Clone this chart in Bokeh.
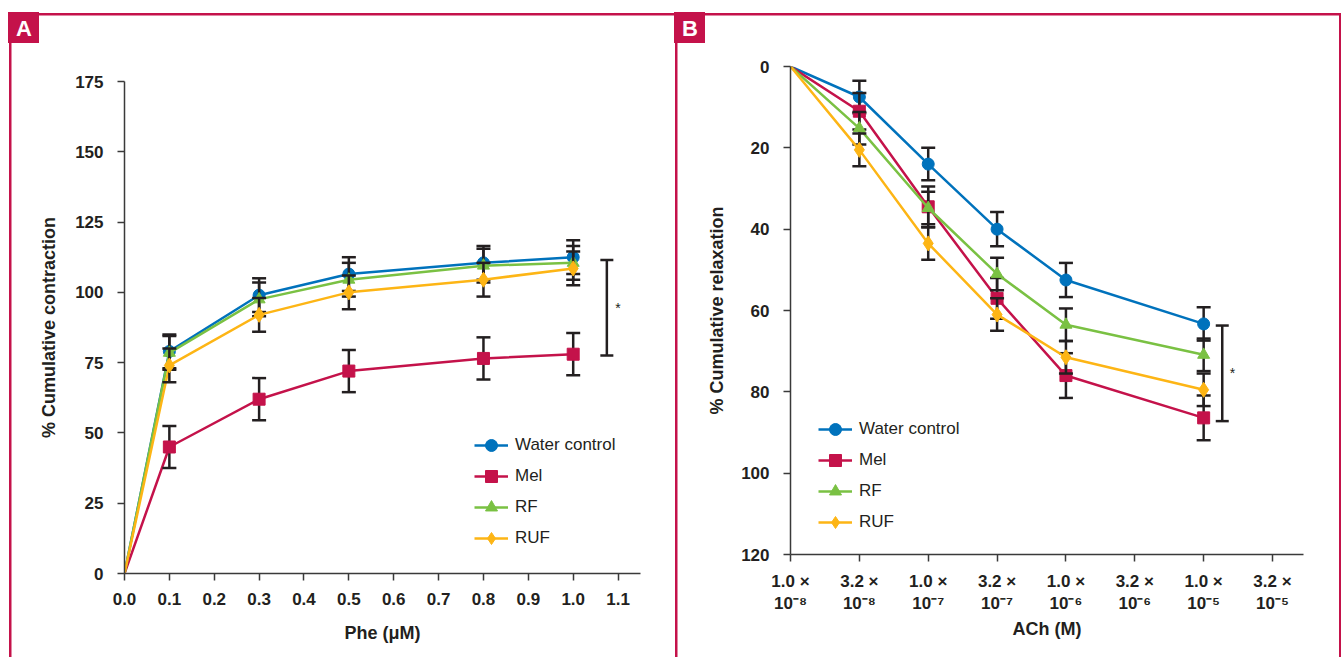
from bokeh.plotting import figure
from bokeh.models import (Range1d, FixedTicker, Legend, LegendItem, Label, Title)
from bokeh.layouts import row
from bokeh.embed import file_html
from bokeh.resources import INLINE

# ---------------- data ----------------
# Panel A: Phe concentration (uM) vs % cumulative contraction
phe_x = [0.0, 0.1, 0.3, 0.5, 0.8, 1.0]
a_water = [0, 79, 99, 106.5, 110.5, 112.5]
a_water_err = [6, 6, 6, 6, 6]
a_mel = [0, 45, 62, 72, 76.5, 78]
a_mel_err = [7.5, 7.5, 7.5, 7.5, 7.5]
a_rf = [0, 78.5, 97.5, 104.5, 109.5, 110.5]
a_rf_err = [6, 6, 6, 6, 6]
a_ruf = [0, 74, 92, 100, 104.5, 108.5]
a_ruf_err = [6, 6, 6, 6, 6]
a_xticks = [0.0, 0.1, 0.2, 0.3, 0.4, 0.5, 0.6, 0.7, 0.8, 0.9, 1.0, 1.1]
a_xlabels = ["0.0", "0.1", "0.2", "0.3", "0.4", "0.5", "0.6", "0.7", "0.8", "0.9", "1.0", "1.1"]
a_yticks = [0, 25, 50, 75, 100, 125, 150, 175]
a_sig = [77.5, 111.5]   # significance bracket range

# Panel B: ACh concentration (category index) vs % cumulative relaxation
ach_x = [0, 1, 2, 3, 4, 6]
b_water = [0, 7.5, 24, 40, 52.5, 63.3]
b_water_err = [4, 4, 4.2, 4.2, 4.1]
b_mel = [0, 11, 34.5, 57, 76, 86.4]
b_mel_err = [4.5, 5, 5, 5.5, 5.5]
b_rf = [0, 15.2, 34.8, 51, 63.5, 70.9]
b_rf_err = [4, 4, 4, 4, 4]
b_ruf = [0, 20.5, 43.5, 61, 71.5, 79.5]
b_ruf_err = [4, 4, 4, 4, 4]
b_xticks = [0, 1, 2, 3, 4, 5, 6, 7]
b_xlabels = ["1.0 \u00d7\n10\u207b\u2078", "3.2 \u00d7\n10\u207b\u2078",
             "1.0 \u00d7\n10\u207b\u2077", "3.2 \u00d7\n10\u207b\u2077",
             "1.0 \u00d7\n10\u207b\u2076", "3.2 \u00d7\n10\u207b\u2076",
             "1.0 \u00d7\n10\u207b\u2075", "3.2 \u00d7\n10\u207b\u2075"]
b_yticks = [0, 20, 40, 60, 80, 100, 120]
b_sig = [63.7, 87.2]

series_names = ["Water control", "Mel", "RF", "RUF"]

# ---------------- style ----------------
CRIMSON = "#C4124A"
BLUE = "#0072BC"
GREEN = "#7AC143"
YELLOW = "#FDB515"
DARK = "#231F20"
AXIS = "#3a3a3a"
FONT = "Liberation Sans"


def grad(x, y, w, h):
    return f"linear-gradient({CRIMSON},{CRIMSON}) {x} {y} / {w} {h} no-repeat"


def style_axes(p):
    p.xgrid.visible = False
    p.ygrid.visible = False
    p.outline_line_color = None
    for ax in p.axis:
        ax.axis_line_color = AXIS
        ax.axis_line_width = 1.5
        ax.major_tick_line_color = AXIS
        ax.major_tick_line_width = 1.5
        ax.major_tick_in = 0
        ax.major_tick_out = 7
        ax.minor_tick_line_color = None
        ax.major_label_text_font = FONT
        ax.major_label_text_font_style = "bold"
        ax.major_label_text_font_size = "17px"
        ax.major_label_text_color = DARK
        ax.axis_label_text_font = FONT
        ax.axis_label_text_font_style = "bold"
        ax.axis_label_text_font_size = "18px"
        ax.axis_label_text_color = DARK


def draw_series(p, x, y, err, color, marker, size, cap):
    ln = p.line(x, y, line_color=color, line_width=2.5)
    xs = x[1:]
    ys = y[1:]
    up = [v + e for v, e in zip(ys, err)]
    lo = [v - e for v, e in zip(ys, err)]
    p.segment(x0=xs, y0=lo, x1=xs, y1=up, line_color=DARK, line_width=2.5)
    p.scatter(xs, up, marker="dash", size=cap, line_color=DARK, line_width=2.5)
    p.scatter(xs, lo, marker="dash", size=cap, line_color=DARK, line_width=2.5)
    sc = p.scatter(xs, ys, marker=marker, size=size, fill_color=color, line_color=color)
    return ln, sc


def panel_letter(p, text, spacer_standoff, offset):
    # invisible spacer panel next to the frame, then the letter panel above it
    p.add_layout(Title(text=" ", text_font_size="1px", standoff=spacer_standoff,
                       text_color="white"), "above")
    p.add_layout(Title(text=text, align="left", offset=offset, standoff=12,
                       vertical_align="middle", text_color="#FFFFFF",
                       text_font=FONT, text_font_style="bold",
                       text_font_size="22px"), "above")


def make_legend(p, pairs, loc):
    items = [LegendItem(label=n, renderers=list(r)) for n, r in zip(series_names, pairs)]
    lg = Legend(items=items, location=loc, orientation="vertical",
                glyph_width=34, glyph_height=30, label_height=20, spacing=1,
                padding=0, margin=0, label_standoff=7, border_line_color=None,
                background_fill_alpha=0, label_text_font=FONT,
                label_text_font_size="17px", label_text_color=DARK)
    p.add_layout(lg)


# ---------------- Panel A ----------------
pa = figure(width=674, height=657, output_backend="svg", toolbar_location=None,
            x_range=Range1d(0, 1.15), y_range=Range1d(0, 175),
            min_border_left=124, min_border_right=34, min_border_top=81,
            min_border_bottom=84, background_fill_color="white",
            border_fill_alpha=0, frame_align=False,
            styles={"background": ", ".join([
                grad("8px", "12px", "31px", "31px"),
                grad("9px", "12.5px", "2.5px", "700px"),
                grad("9px", "12.5px", "700px", "2.5px")])})
pa.xaxis.ticker = FixedTicker(ticks=a_xticks)
pa.xaxis.major_label_overrides = {t: l for t, l in zip(a_xticks, a_xlabels)}
pa.yaxis.ticker = FixedTicker(ticks=a_yticks)
pa.xaxis.axis_label = "Phe (\u03bcM)"
pa.yaxis.axis_label = "% Cumulative contraction"
style_axes(pa)
pa.xaxis.major_label_standoff = 12
pa.xaxis.axis_label_standoff = 15
pa.yaxis.major_label_standoff = 14
pa.yaxis.axis_label_standoff = 13

pairs_a = [
    draw_series(pa, phe_x, a_water, a_water_err, BLUE, "circle", 12, 14),
    draw_series(pa, phe_x, a_mel, a_mel_err, CRIMSON, "square", 12, 14),
    draw_series(pa, phe_x, a_rf, a_rf_err, GREEN, "triangle", 12, 14),
    draw_series(pa, phe_x, a_ruf, a_ruf_err, YELLOW, "diamond", 15, 14),
]
# significance bracket
pa.segment(x0=[1.075], y0=[a_sig[0]], x1=[1.075], y1=[a_sig[1]], line_color=DARK, line_width=2.5)
pa.scatter([1.075, 1.075], a_sig, marker="dash", size=13, line_color=DARK, line_width=2.5)
pa.add_layout(Label(x=1.1, y=sum(a_sig) / 2, text="*", text_font=FONT,
                    text_font_size="14px", text_color=DARK, text_align="center",
                    text_baseline="middle"))
make_legend(pa, pairs_a, (350, 20))
panel_letter(pa, "A", 31, -108.4)

# ---------------- Panel B ----------------
pb = figure(width=667, height=657, output_backend="svg", toolbar_location=None,
            x_range=Range1d(0, 7.45), y_range=Range1d(120, 0),
            min_border_left=116, min_border_right=38, min_border_top=66,
            min_border_bottom=103, background_fill_color="white",
            border_fill_alpha=0, frame_align=False,
            styles={"background": ", ".join([
                grad("0px", "12px", "31px", "31px"),
                grad("1px", "12.5px", "2.5px", "700px"),
                grad("0px", "12.5px", "700px", "2.5px"),
                grad("664.5px", "12.5px", "2.5px", "700px")])})
pb.xaxis.ticker = FixedTicker(ticks=b_xticks)
pb.xaxis.major_label_overrides = {t: l for t, l in zip(b_xticks, b_xlabels)}
pb.yaxis.ticker = FixedTicker(ticks=b_yticks)
pb.xaxis.axis_label = "ACh (M)"
pb.yaxis.axis_label = "% Cumulative relaxation"
style_axes(pb)
pb.xaxis.major_label_text_line_height = 1.2
pb.xaxis.major_label_standoff = 10
pb.xaxis.axis_label_standoff = 3
pb.yaxis.major_label_standoff = 14
pb.yaxis.axis_label_standoff = 11

pairs_b = [
    draw_series(pb, ach_x, b_water, b_water_err, BLUE, "circle", 12, 14),
    draw_series(pb, ach_x, b_mel, b_mel_err, CRIMSON, "square", 12, 14),
    draw_series(pb, ach_x, b_rf, b_rf_err, GREEN, "triangle", 12, 14),
    draw_series(pb, ach_x, b_ruf, b_ruf_err, YELLOW, "diamond", 15, 14),
]
pb.segment(x0=[6.27], y0=[b_sig[0]], x1=[6.27], y1=[b_sig[1]], line_color=DARK, line_width=2.5)
pb.scatter([6.27, 6.27], b_sig, marker="dash", size=13, line_color=DARK, line_width=2.5)
pb.add_layout(Label(x=6.42, y=sum(b_sig) / 2, text="*", text_font=FONT,
                    text_font_size="14px", text_color=DARK, text_align="center",
                    text_baseline="middle"))
make_legend(pb, pairs_b, (28, 17))
panel_letter(pb, "B", 16, -108.4)

layout = row(pa, pb)
open("out.html", "w").write(file_html(layout, INLINE))
